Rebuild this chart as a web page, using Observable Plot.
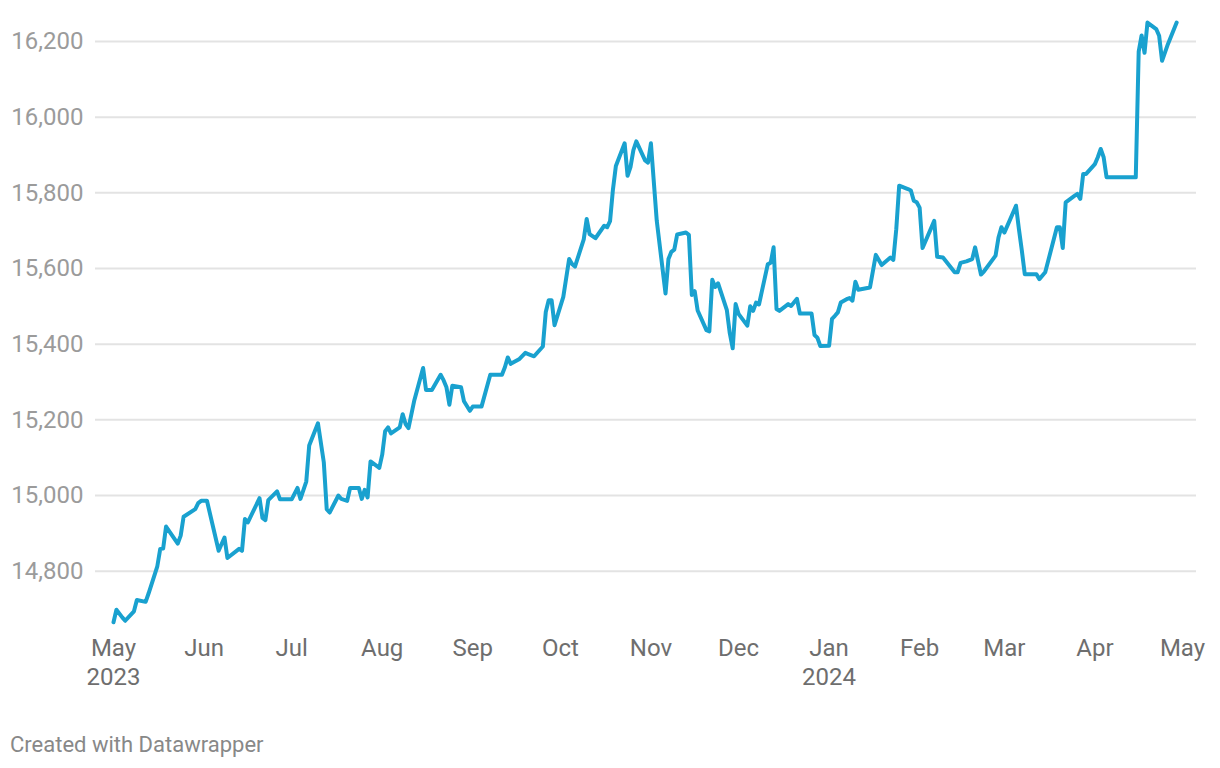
<!DOCTYPE html>
<html>
<head>
<meta charset="utf-8">
<script src="https://cdn.jsdelivr.net/npm/d3@7"></script>
<script src="https://cdn.jsdelivr.net/npm/@observablehq/plot@0.6"></script>
<style>
  html, body { margin: 0; padding: 0; background: #ffffff; }
  body { width: 1220px; height: 768px; overflow: hidden; font-family: Roboto, "Noto Sans", sans-serif; }
  #credit { font-family: Roboto, sans-serif; font-size: 22px; line-height: 26px; color: #888888; padding-left: 10px; margin-top: 32px; }
</style>
</head>
<body>
<div id="chart"></div>
<div id="credit">Created with Datawrapper</div>
<script>
const dates = [
  "2023-05-01","2023-05-02","2023-05-04","2023-05-05","2023-05-08","2023-05-09","2023-05-12","2023-05-13","2023-05-16","2023-05-17","2023-05-18","2023-05-19","2023-05-23","2023-05-24","2023-05-25","2023-05-29","2023-05-30","2023-05-31",
  "2023-06-02","2023-06-06","2023-06-08","2023-06-09","2023-06-13","2023-06-14","2023-06-15","2023-06-16","2023-06-20","2023-06-21","2023-06-22","2023-06-23","2023-06-26","2023-06-27",
  "2023-07-01","2023-07-03","2023-07-04","2023-07-06","2023-07-07","2023-07-10","2023-07-12","2023-07-13","2023-07-14","2023-07-17","2023-07-18","2023-07-20","2023-07-21","2023-07-24","2023-07-25","2023-07-26","2023-07-27","2023-07-28","2023-07-31",
  "2023-08-01","2023-08-02","2023-08-03","2023-08-04","2023-08-07","2023-08-08","2023-08-09","2023-08-10","2023-08-12","2023-08-15","2023-08-16","2023-08-18","2023-08-21","2023-08-22","2023-08-23","2023-08-24","2023-08-25","2023-08-28","2023-08-29","2023-08-31",
  "2023-09-01","2023-09-04","2023-09-07","2023-09-11","2023-09-12","2023-09-13","2023-09-14","2023-09-17","2023-09-19","2023-09-20","2023-09-22","2023-09-25","2023-09-26","2023-09-27","2023-09-28","2023-09-29",
  "2023-10-02","2023-10-04","2023-10-05","2023-10-06","2023-10-09","2023-10-10","2023-10-11","2023-10-13","2023-10-16","2023-10-17","2023-10-18","2023-10-19","2023-10-20","2023-10-23","2023-10-24","2023-10-25","2023-10-26","2023-10-27","2023-10-30","2023-10-31",
  "2023-11-01","2023-11-03","2023-11-06","2023-11-07","2023-11-08","2023-11-09","2023-11-10","2023-11-13","2023-11-14","2023-11-15","2023-11-16","2023-11-17","2023-11-20","2023-11-21","2023-11-22","2023-11-23","2023-11-24","2023-11-27","2023-11-28","2023-11-29","2023-11-30",
  "2023-12-01","2023-12-04","2023-12-05","2023-12-06","2023-12-07","2023-12-08","2023-12-11","2023-12-12","2023-12-13","2023-12-14","2023-12-15","2023-12-18","2023-12-19","2023-12-21","2023-12-22","2023-12-26","2023-12-27","2023-12-28","2023-12-29",
  "2024-01-01","2024-01-02","2024-01-03","2024-01-04","2024-01-05","2024-01-07","2024-01-08","2024-01-09","2024-01-10","2024-01-11","2024-01-15","2024-01-17","2024-01-19","2024-01-22","2024-01-23","2024-01-24","2024-01-25","2024-01-28","2024-01-29","2024-01-30","2024-01-31",
  "2024-02-01","2024-02-02","2024-02-06","2024-02-07","2024-02-09","2024-02-13","2024-02-14","2024-02-15","2024-02-17","2024-02-19","2024-02-20","2024-02-22","2024-02-23","2024-02-27","2024-02-28","2024-02-29",
  "2024-03-01","2024-03-03","2024-03-05","2024-03-06","2024-03-07","2024-03-08","2024-03-12","2024-03-13","2024-03-15","2024-03-19","2024-03-20","2024-03-21","2024-03-22","2024-03-25","2024-03-26","2024-03-27","2024-03-28","2024-03-29",
  "2024-04-01","2024-04-02","2024-04-03","2024-04-04","2024-04-05","2024-04-15","2024-04-16","2024-04-17","2024-04-18","2024-04-19","2024-04-22","2024-04-23","2024-04-24","2024-04-26","2024-04-29"
];

const values = [
  14665,14698,14678,14669,14694,14724,14719,14741,14813,14859,14860,14918,14873,14894,14944,14964,14980,14986,
  14986,14854,14889,14835,14859,14854,14938,14929,14993,14941,14935,14988,15011,14990,
  14990,15020,14991,15037,15132,15191,15088,14964,14955,15000,14991,14986,15020,15020,14991,15015,14995,15090,15073,
  15108,15170,15180,15164,15180,15215,15189,15178,15252,15337,15279,15279,15319,15305,15286,15240,15290,15286,15249,15224,
  15235,15235,15319,15319,15339,15365,15348,15361,15377,15374,15368,15394,15485,15516,15516,15450,
  15525,15625,15612,15605,15677,15731,15691,15680,15713,15709,15725,15809,15871,15931,15845,15868,15913,15936,15886,15880,
  15931,15726,15534,15625,15644,15650,15690,15695,15689,15530,15540,15489,15437,15434,15570,15551,15561,15490,15429,15389,15506,
  15480,15449,15500,15488,15510,15505,15611,15615,15656,15493,15488,15506,15501,15520,15481,15481,15424,15417,15395,
  15396,15467,15475,15484,15510,15519,15522,15515,15565,15544,15550,15636,15609,15629,15623,15704,15819,15810,15806,15779,15775,
  15761,15654,15726,15631,15629,15590,15590,15615,15619,15625,15656,15584,15592,15634,15682,15709,
  15695,15730,15766,15704,15647,15585,15585,15572,15590,15709,15709,15654,15775,15792,15797,15784,15850,15850,
  15876,15894,15916,15894,15841,15841,16173,16216,16170,16250,16233,16215,16149,16193,16250
];

const yTicks = [14800, 15000, 15200, 15400, 15600, 15800, 16000, 16200];

const monthTicks = ["2023-05-01","2023-06-01","2023-07-01","2023-08-01","2023-09-01","2023-10-01","2023-11-01","2023-12-01","2024-01-01","2024-02-01","2024-03-01","2024-04-01","2024-05-01"];
const monthLabels = ["May\n2023","Jun","Jul","Aug","Sep","Oct","Nov","Dec","Jan\n2024","Feb","Mar","Apr","May"];

if (dates.length !== values.length) throw new Error("length mismatch " + dates.length + " vs " + values.length);

const series = dates.map((d, i) => ({date: new Date(d), value: values[i]}));
const tickDates = monthTicks.map(d => new Date(d));
const labelOf = new Map(tickDates.map((d, i) => [+d, monthLabels[i]]));

const chart = Plot.plot({
  width: 1220,
  height: 700,
  marginLeft: 95,
  marginRight: 24,
  marginTop: 10,
  marginBottom: 72,
  style: {fontFamily: "Roboto, sans-serif", fontSize: "24px", background: "#ffffff", overflow: "visible"},
  x: {type: "utc", domain: [new Date("2023-05-01"), new Date("2024-05-01")], range: [113, 1182]},
  y: {domain: [14800, 16200], range: [570.7, 41]},
  marks: [
    Plot.gridY(yTicks, {stroke: "#e3e3e3", strokeOpacity: 1, strokeWidth: 2}),
    Plot.axisY(yTicks, {
      tickFormat: d3.format(","), tickSize: 0, tickPadding: 12,
      fontSize: 24, color: "#9b9b9b", label: null
    }),
    Plot.axisX(tickDates, {
      tickFormat: d => labelOf.get(+d), tickSize: 0, tickPadding: 8,
      fontSize: 24, color: "#6e6e6e", label: null, lineHeight: 1.17
    }),
    Plot.line(series, {x: "date", y: "value", stroke: "#19a1cf", strokeWidth: 4, strokeLinejoin: "round", strokeLinecap: "round"})
  ]
});
document.getElementById("chart").appendChild(chart);
</script>
</body>
</html>
